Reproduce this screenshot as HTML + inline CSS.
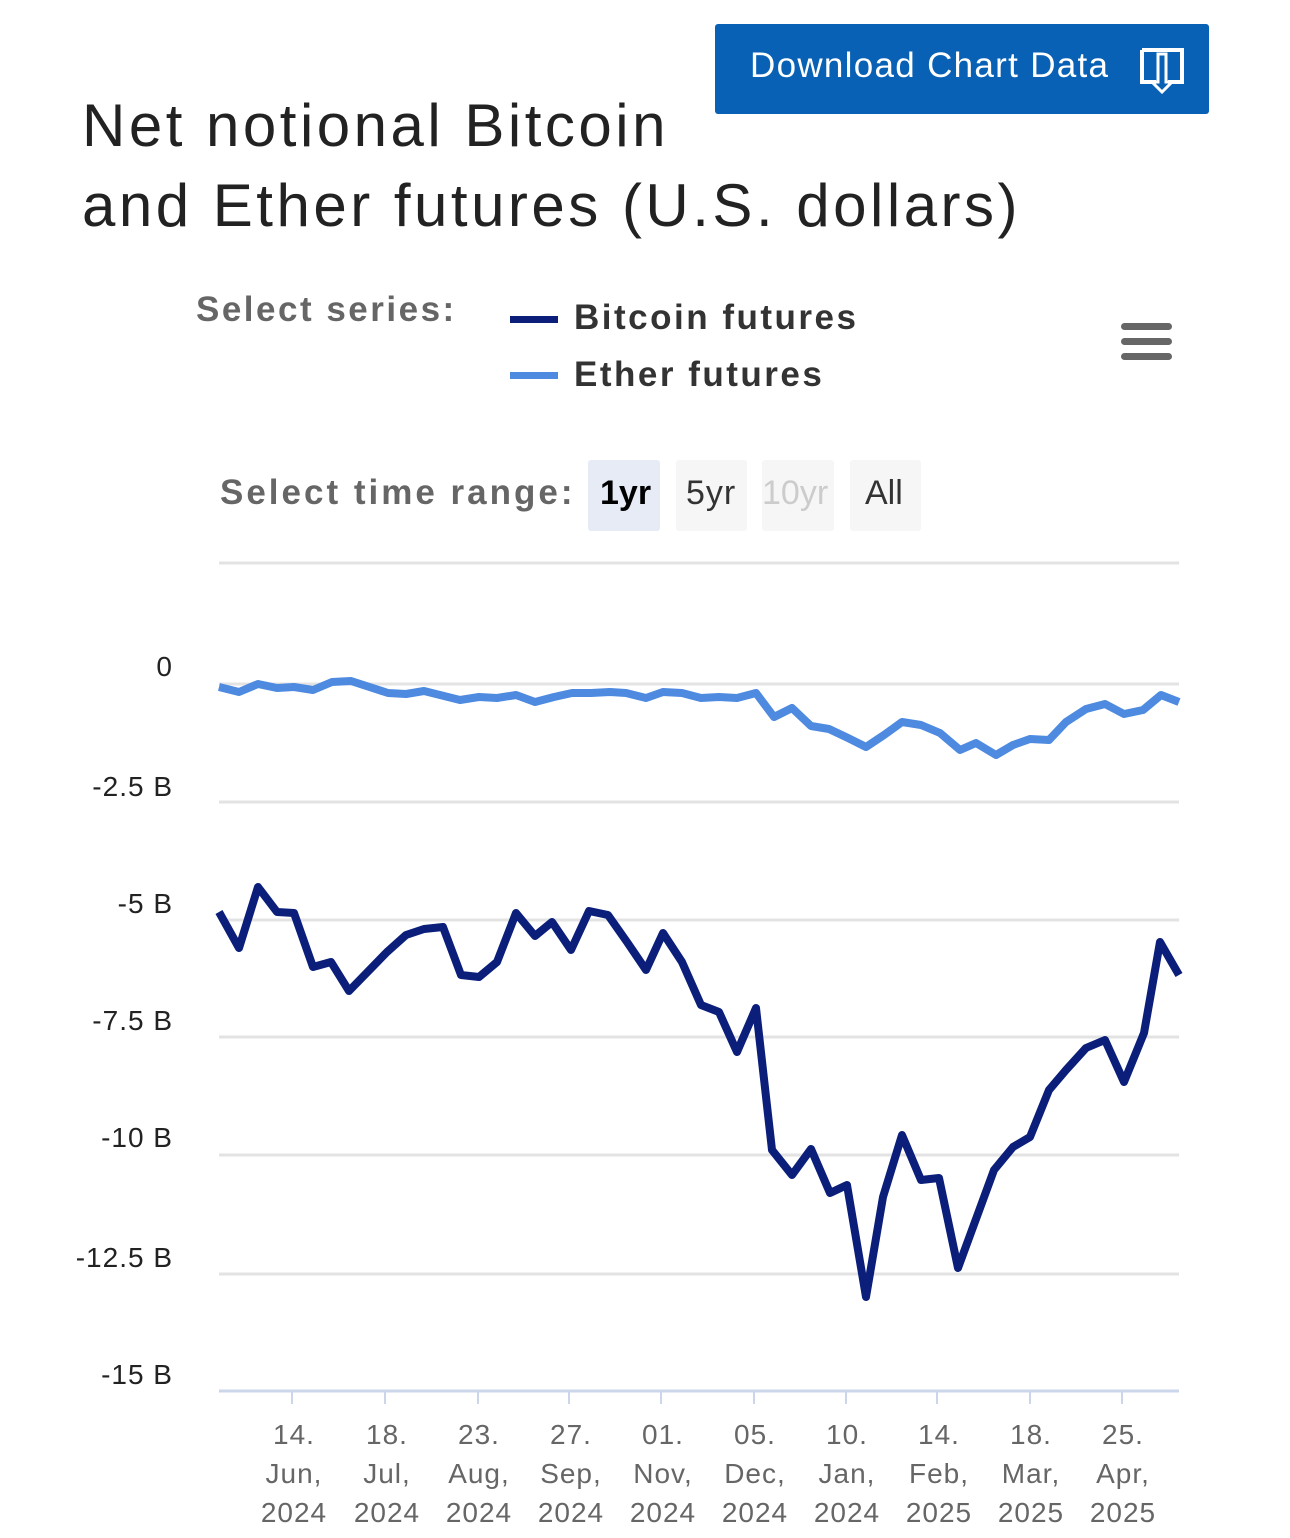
<!DOCTYPE html>
<html><head><meta charset="utf-8"><style>
body{margin:0;width:1290px;height:1538px;background:#fff;font-family:"Liberation Sans",sans-serif;overflow:hidden;position:relative}
.a{position:absolute;white-space:nowrap}
</style></head><body>
<div class="a" style="left:715px;top:24px;width:494px;height:90px;background:#0861b5;border-radius:3px"></div>
<div class="a" style="left:750px;top:46px;color:#fff;font-size:35px;letter-spacing:1.3px">Download Chart Data</div>
<svg class="a" style="left:1138px;top:46px" width="50" height="48"><path d="M4 4h40v32H30M18 36H4V4" fill="none" stroke="#fff" stroke-width="4"/><path d="M20 8v28h-6l10 10 10-10h-6V8z" fill="none" stroke="#fff" stroke-width="3"/></svg>
<div class="a" style="left:82px;top:86px;font-size:60px;color:#222;line-height:80px;letter-spacing:3.5px">Net notional Bitcoin<br>and Ether futures (U.S. dollars)</div>
<div class="a" style="left:196px;top:290px;font-size:35px;font-weight:bold;color:#666;letter-spacing:2.5px">Select series:</div>
<div class="a" style="left:510px;top:316px;width:48px;height:7px;background:#0b1f7a"></div>
<div class="a" style="left:574px;top:298px;font-size:35px;font-weight:bold;color:#333;letter-spacing:2.5px">Bitcoin futures</div>
<div class="a" style="left:510px;top:372px;width:48px;height:7px;background:#4d8ae0"></div>
<div class="a" style="left:574px;top:355px;font-size:35px;font-weight:bold;color:#333;letter-spacing:2.5px">Ether futures</div>
<div class="a" style="left:1121px;top:323px;width:51px;height:7px;background:#666;border-radius:4px"></div>
<div class="a" style="left:1121px;top:338px;width:51px;height:7px;background:#666;border-radius:4px"></div>
<div class="a" style="left:1121px;top:353px;width:51px;height:7px;background:#666;border-radius:4px"></div>
<div class="a" style="left:220px;top:473px;font-size:35px;font-weight:bold;color:#666;letter-spacing:3px">Select time range:</div>
<div class="a" style="left:588px;top:460px;width:72px;height:71px;background:#e6ebf5;border-radius:3px"></div>
<div class="a" style="left:676px;top:460px;width:71px;height:71px;background:#f6f6f6;border-radius:3px"></div>
<div class="a" style="left:762px;top:460px;width:72px;height:71px;background:#f6f6f6;border-radius:3px"></div>
<div class="a" style="left:850px;top:460px;width:71px;height:71px;background:#f6f6f6;border-radius:3px"></div>
<div class="a" style="left:600px;top:474px;font-size:34px;font-weight:bold;color:#000">1yr</div>
<div class="a" style="left:686px;top:474px;font-size:34px;color:#333;letter-spacing:1px">5yr</div>
<div class="a" style="left:762px;top:474px;font-size:34px;color:#ccc">10yr</div>
<div class="a" style="left:865px;top:474px;font-size:34px;color:#333">All</div>
<svg class="a" style="left:0;top:0" width="1290" height="1538">
<g stroke="#e3e3e3" stroke-width="3">
<line x1="219" x2="1179" y1="563" y2="563"/><line x1="219" x2="1179" y1="684" y2="684"/><line x1="219" x2="1179" y1="802" y2="802"/><line x1="219" x2="1179" y1="920" y2="920"/><line x1="219" x2="1179" y1="1037" y2="1037"/><line x1="219" x2="1179" y1="1155" y2="1155"/><line x1="219" x2="1179" y1="1274" y2="1274"/></g>
<line x1="219" x2="1179" y1="1391" y2="1391" stroke="#ccd6eb" stroke-width="3"/>
<g stroke="#ccd6eb" stroke-width="2"><line x1="292" x2="292" y1="1391" y2="1404"/><line x1="385" x2="385" y1="1391" y2="1404"/><line x1="478" x2="478" y1="1391" y2="1404"/><line x1="569" x2="569" y1="1391" y2="1404"/><line x1="661" x2="661" y1="1391" y2="1404"/><line x1="754" x2="754" y1="1391" y2="1404"/><line x1="846" x2="846" y1="1391" y2="1404"/><line x1="937" x2="937" y1="1391" y2="1404"/><line x1="1030" x2="1030" y1="1391" y2="1404"/><line x1="1122" x2="1122" y1="1391" y2="1404"/></g>
<g font-size="28" fill="#222" text-anchor="end" font-family="Liberation Sans,sans-serif" letter-spacing="1">
<text x="173" y="676">0</text><text x="173" y="796">-2.5 B</text><text x="173" y="913">-5 B</text><text x="173" y="1030">-7.5 B</text><text x="173" y="1147">-10 B</text><text x="173" y="1267">-12.5 B</text><text x="173" y="1384">-15 B</text></g>
<g font-size="28" fill="#666" text-anchor="middle" font-family="Liberation Sans,sans-serif" letter-spacing="1">
<text x="294" y="1444">14.</text><text x="294" y="1483">Jun,</text><text x="294" y="1522">2024</text>
<text x="387" y="1444">18.</text><text x="387" y="1483">Jul,</text><text x="387" y="1522">2024</text>
<text x="479" y="1444">23.</text><text x="479" y="1483">Aug,</text><text x="479" y="1522">2024</text>
<text x="571" y="1444">27.</text><text x="571" y="1483">Sep,</text><text x="571" y="1522">2024</text>
<text x="663" y="1444">01.</text><text x="663" y="1483">Nov,</text><text x="663" y="1522">2024</text>
<text x="755" y="1444">05.</text><text x="755" y="1483">Dec,</text><text x="755" y="1522">2024</text>
<text x="847" y="1444">10.</text><text x="847" y="1483">Jan,</text><text x="847" y="1522">2024</text>
<text x="939" y="1444">14.</text><text x="939" y="1483">Feb,</text><text x="939" y="1522">2025</text>
<text x="1031" y="1444">18.</text><text x="1031" y="1483">Mar,</text><text x="1031" y="1522">2025</text>
<text x="1123" y="1444">25.</text><text x="1123" y="1483">Apr,</text><text x="1123" y="1522">2025</text></g>
<polyline fill="none" stroke="#4d8ae0" stroke-width="8" stroke-linejoin="round" points="219,687 239,692 258,684 277,688 294,687 313,690 332,682 351,681 388,693 406,694 424,691 460,700 479,697 497,698 516,695 535,702 554,697 572,693 591,693 610,692 626,693 646,698 663,692 682,693 701,698 719,697 737,698 756,693 774,717 792,708 811,726 829,729 848,738 866,747 884,735 902,722 921,725 940,733 960,750 976,743 996,755 1013,745 1030,739 1049,740 1066,722 1086,709 1105,704 1124,714 1143,710 1161,695 1179,702"/>
<polyline fill="none" stroke="#0b1f7a" stroke-width="8" stroke-linejoin="round" points="219,912 239,948 258,887 277,912 294,913 313,967 331,962 349,991 387,952 406,935 424,929 443,927 461,975 479,977 497,962 516,913 535,936 552,922 571,950 589,911 608,915 627,942 646,970 663,933 682,962 701,1005 719,1012 737,1052 756,1008 772,1150 792,1175 811,1149 830,1193 847,1185 866,1297 883,1197 902,1135 921,1180 939,1178 958,1268 994,1170 1013,1147 1030,1137 1049,1090 1066,1070 1086,1048 1105,1040 1124,1082 1144,1033 1160,942 1179,975"/>
</svg>
</body></html>
